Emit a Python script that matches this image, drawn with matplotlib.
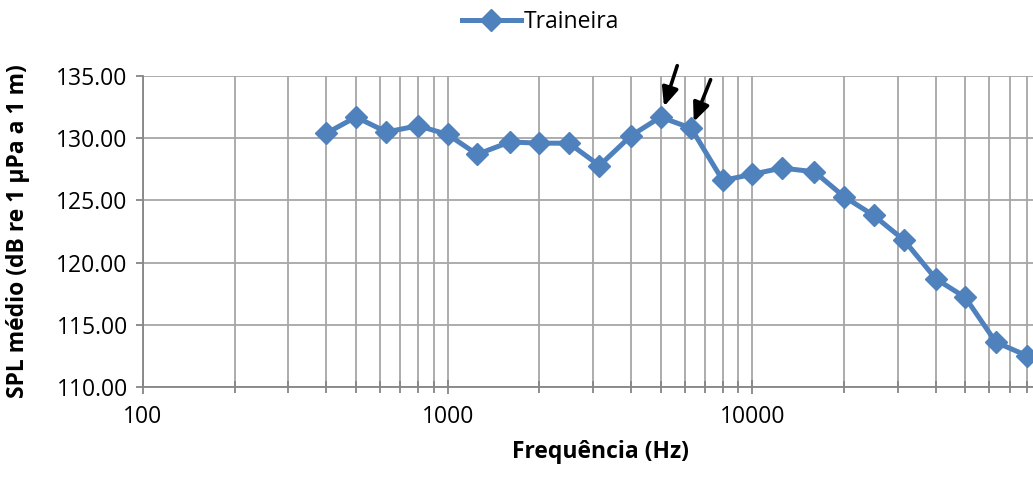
import matplotlib
matplotlib.use("Agg")
import matplotlib.pyplot as plt
from matplotlib.ticker import LogLocator, FixedLocator, FuncFormatter, NullFormatter

plt.rcParams['font.family'] = ['Open Sans', 'DejaVu Sans']

# 1/3-octave band centre frequencies and mean SPL
freqs = [400, 500, 630, 800, 1000, 1250, 1600, 2000, 2500, 3150, 4000, 5000,
         6300, 8000, 10000, 12500, 16000, 20000, 25000, 31500, 40000, 50000,
         63000, 80000]
spl = [130.4, 131.7, 130.5, 131.0, 130.3, 128.7, 129.7, 129.6, 129.6, 127.8,
       130.2, 131.7, 130.8, 126.6, 127.1, 127.6, 127.3, 125.3, 123.8, 121.8,
       118.7, 117.2, 113.6, 112.5]
series_name = 'Traineira'
flagged = [5000, 6300]

blue = '#4F81BD'
grid_c = '#A6A6A6'
axis_c = '#868686'

fig = plt.figure(figsize=(10.33, 4.78), dpi=100)
ax = fig.add_axes([0.1384, 0.1904, 0.8848, 0.6506])

line, = ax.plot(freqs, spl, color=blue, lw=3.6, marker='D', markersize=11,
                markeredgecolor=blue, markerfacecolor=blue, label=series_name,
                zorder=3)

ax.set_xscale('log')
ax.set_xlim(100, 100000)
ax.set_ylim(110, 135)
ax.yaxis.set_major_locator(FixedLocator([110, 115, 120, 125, 130, 135]))
ax.yaxis.set_major_formatter(FuncFormatter(lambda v, p: f'{v:.2f}'))
ax.xaxis.set_major_locator(LogLocator(base=10))
# the last decade label falls past the right edge of the figure
ax.xaxis.set_major_formatter(
    FuncFormatter(lambda v, p: f'{int(round(v))}' if v < 50000 else ''))
ax.xaxis.set_minor_locator(LogLocator(base=10, subs=range(2, 10)))
ax.xaxis.set_minor_formatter(NullFormatter())

ax.grid(True, which='major', axis='both', color=grid_c, lw=1.3, zorder=0)
ax.grid(True, which='minor', axis='x', color=grid_c, lw=1.3, zorder=0)
for side in ['top', 'right']:
    ax.spines[side].set_visible(False)
for side in ['left', 'bottom']:
    ax.spines[side].set_color(axis_c)
    ax.spines[side].set_linewidth(1.3)

ax.tick_params(axis='y', which='major', direction='out', length=5, width=1.3,
               color=axis_c, labelsize=16.5, pad=6)
ax.tick_params(axis='x', which='major', direction='inout', length=10, width=1.3,
               color=axis_c, labelsize=16.5, pad=8)
ax.tick_params(axis='x', which='minor', direction='inout', length=8, width=1.3,
               color=axis_c)

ax.set_xlabel('Frequência (Hz)', fontsize=16.5, fontweight='bold', labelpad=8)
ax.set_ylabel('SPL médio (dB re 1 µPa a 1 m)', fontsize=16.5, fontweight='bold')
ax.yaxis.set_label_coords(-0.124, 0.5)

# arrows pointing at the two flagged bands
offsets = {5000: (12, 37), 6300: (14, 35)}
shrink = {5000: 8, 6300: 5}
for f in flagged:
    v = spl[freqs.index(f)]
    ax.annotate('', xy=(f, v), xytext=offsets[f], textcoords='offset points',
                arrowprops=dict(arrowstyle='-|>,head_length=0.8,head_width=0.35',
                                mutation_scale=14, color='black', lw=2.6,
                                shrinkA=0, shrinkB=shrink[f]),
                zorder=4)

leg = fig.legend(handles=[line], loc='center', bbox_to_anchor=(0.523, 0.953),
                 frameon=False, fontsize=16.5, handlelength=2.6,
                 handletextpad=0.1)

fig.savefig('out.png', dpi=100)
